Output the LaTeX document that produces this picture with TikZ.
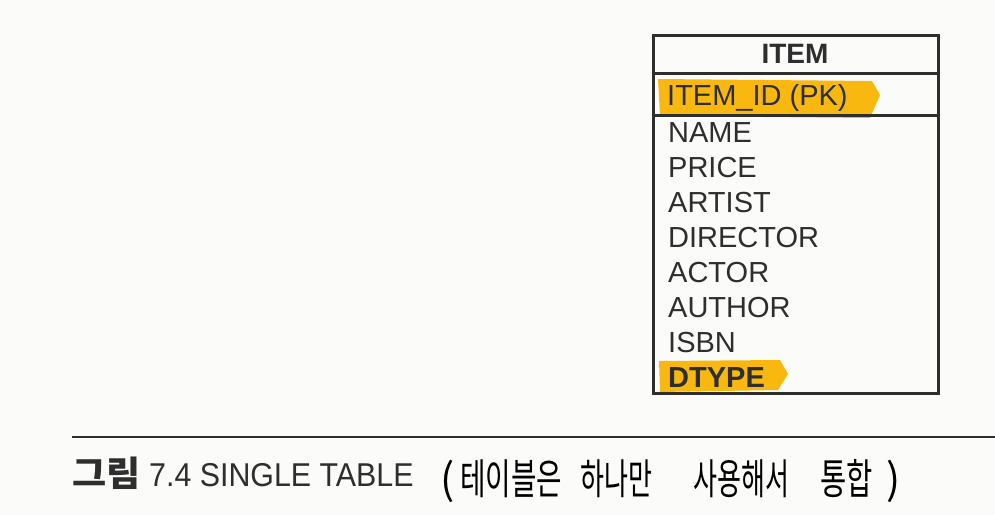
\documentclass[tikz,border=0pt]{standalone}
\usepackage{fontspec}
\setmainfont{Liberation Sans}
\newfontfamily\krfont{Noto Sans CJK KR}
\definecolor{ink}{HTML}{2E2E2E}
\definecolor{hl}{HTML}{F9B80F}
\definecolor{paper}{HTML}{FBFBFA}
\begin{document}
\begin{tikzpicture}[x=1pt,y=-1pt,
  field/.style={anchor=base west, inner sep=0pt, font=\fontsize{29}{29}\selectfont, text=ink},
  header/.style={anchor=base, inner sep=0pt, font=\fontsize{28}{28}\selectfont\bfseries, text=ink},
  boxline/.style={draw=ink, line width=3pt},
  marker/.style={fill=hl, draw=none},
  caption/.style={anchor=base west, inner sep=0pt, text=ink, font=\fontsize{33}{33}\selectfont},
  hand/.style={anchor=base west, inner sep=0pt, text=black, font=\krfont\fontsize{42}{42}\selectfont}]
\fill[paper] (0,0) rectangle (995,515);
\useasboundingbox (0,0) rectangle (995,515);
% highlights
\fill[marker] (658,79) -- (872,81) -- (880,95) -- (870,118) -- (660,116) -- cycle;
\fill[marker] (659,361) -- (780,360) -- (788,374) -- (778,390) -- (660,392) -- cycle;
% table
\coordinate (tl) at (653,35);
\coordinate (br) at (938,393);
\draw[boxline] (tl) rectangle (br);
\draw[boxline] (653,73) -- (938,73);
\draw[boxline] (653,115) -- (938,115);
\node[header] (title) at (795,63) {ITEM};
\node[field] (pk) at (667,105) {ITEM\_ID (PK)};
\node[field] (f1) at (668,142) {NAME};
\node[field] (f2) at (668,177) {PRICE};
\node[field] (f3) at (668,212) {ARTIST};
\node[field] (f4) at (668,247) {DIRECTOR};
\node[field] (f5) at (668,282) {ACTOR};
\node[field] (f6) at (668,317) {AUTHOR};
\node[field] (f7) at (668,352) {ISBN};
\node[field,font=\fontsize{29}{29}\selectfont\bfseries] (f8) at (668,387) {DTYPE};
% caption rule
\coordinate (r1) at (72,437);
\coordinate (r2) at (995,437);
\draw[ink, line width=2pt] (r1) -- (r2);
\node[anchor=base west, inner sep=0pt, font=\krfont\fontsize{35}{35}\selectfont\bfseries, text=ink] (fig) at (72,486) {\scalebox{1.06}[1]{그림}};
\node[caption] (num) at (149,486) {\scalebox{0.92}[1]{7.4 SINGLE TABLE}};
% handwritten note
\node[hand] (p1) at (440,494) {(};
\node[hand] (w1) at (460,494) {\scalebox{0.66}[1]{테이블은}};
\node[hand] (w2) at (580,494) {\scalebox{0.62}[1]{하나만}};
\node[hand] (w3) at (693,494) {\scalebox{0.62}[1]{사용해서}};
\node[hand] (w4) at (820,494) {\scalebox{0.68}[1]{통합}};
\node[hand] (p2) at (886,494) {)};
\end{tikzpicture}
\end{document}
